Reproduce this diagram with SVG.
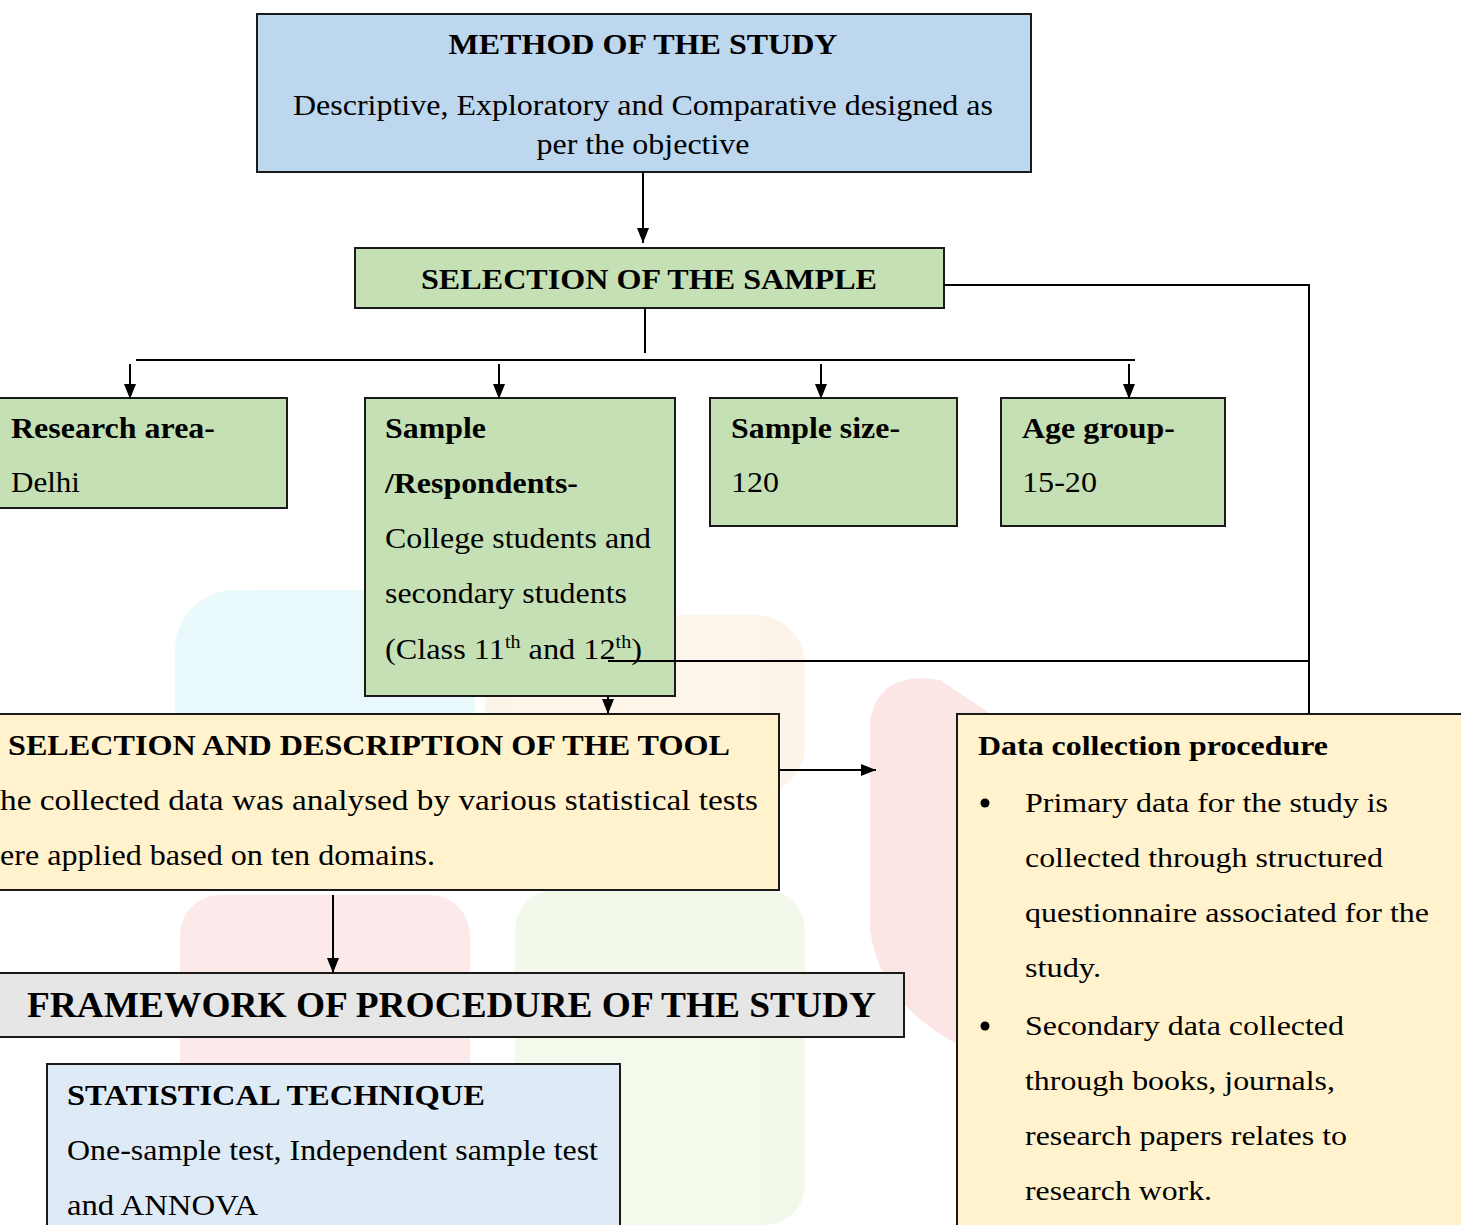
<svg xmlns="http://www.w3.org/2000/svg" width="1461" height="1225" viewBox="0 0 1461 1225" font-family="'Liberation Serif', 'Times New Roman', Tinos, 'Nimbus Roman', serif">
<defs>
<style>
.box{stroke:#1a1a1a;stroke-width:2}
.t{font-family:'Liberation Serif','Times New Roman',Tinos,'Nimbus Roman',serif;fill:#000}
.b{font-weight:bold}
.c{stroke:#000;stroke-width:2;fill:none}
.a{stroke:#000;stroke-width:2;fill:none;marker-end:url(#ah)}
.wm{opacity:0.11}
</style>
<marker id="ah" viewBox="0 0 15 12" refX="15" refY="6" markerWidth="15" markerHeight="12" orient="auto" markerUnits="userSpaceOnUse">
<path d="M0,0 L15,6 L0,12 z" fill="#000"/>
</marker>
</defs>
<rect width="1461" height="1225" fill="#fff"/>
<g id="watermark" class="wm">
<rect x="175" y="590" width="300" height="200" rx="60" fill="#39c6e0"/>
<rect x="485" y="615" width="320" height="180" rx="50" fill="#f5a040"/>
<rect x="180" y="895" width="290" height="280" rx="40" fill="#e84040"/>
<rect x="515" y="890" width="290" height="335" rx="40" fill="#8fd050"/>
<path d="M870,720 Q880,670 940,680 L1060,760 L1060,1050 Q1000,1070 950,1040 Q880,1000 870,930 Z" fill="#e02020"/>
</g>
<g id="method">
<rect class="box" x="257" y="14" width="774" height="158" fill="#BDD7EE"/>
<text class="t b" x="643" y="54" font-size="30" text-anchor="middle" textLength="389" lengthAdjust="spacingAndGlyphs">METHOD OF THE STUDY</text>
<text class="t" x="643" y="115" font-size="29" text-anchor="middle" textLength="700" lengthAdjust="spacingAndGlyphs">Descriptive, Exploratory and Comparative designed as</text>
<text class="t" x="643" y="154" font-size="29" text-anchor="middle" textLength="213" lengthAdjust="spacingAndGlyphs">per the objective</text>
</g>
<g id="selection-sample">
<rect class="box" x="355" y="248" width="589" height="60" fill="#C5E0B4"/>
<text class="t b" x="649" y="289" font-size="30" text-anchor="middle" textLength="456" lengthAdjust="spacingAndGlyphs">SELECTION OF THE SAMPLE</text>
</g>
<g id="research-area">
<rect class="box" x="-5" y="398" width="292" height="110" fill="#C5E0B4"/>
<text class="t b" x="11" y="438" font-size="29" textLength="204" lengthAdjust="spacingAndGlyphs">Research area-</text>
<text class="t" x="11" y="492" font-size="29" textLength="69" lengthAdjust="spacingAndGlyphs">Delhi</text>
</g>
<g id="sample-respondents">
<rect class="box" x="365" y="398" width="310" height="298" fill="#C5E0B4"/>
<text class="t b" x="385" y="438" font-size="29" textLength="101" lengthAdjust="spacingAndGlyphs">Sample</text>
<text class="t b" x="385" y="493" font-size="29" textLength="193" lengthAdjust="spacingAndGlyphs">/Respondents-</text>
<text class="t" x="385" y="548" font-size="29" textLength="266" lengthAdjust="spacingAndGlyphs">College students and</text>
<text class="t" x="385" y="603" font-size="29" textLength="242" lengthAdjust="spacingAndGlyphs">secondary students</text>
<text class="t" x="385" y="659" font-size="29" textLength="257" lengthAdjust="spacingAndGlyphs">(Class 11<tspan font-size="18" dy="-11">th</tspan><tspan dy="11"> and 12</tspan><tspan font-size="18" dy="-11">th</tspan><tspan dy="11">)</tspan></text>
</g>
<g id="sample-size">
<rect class="box" x="710" y="398" width="247" height="128" fill="#C5E0B4"/>
<text class="t b" x="731" y="438" font-size="29" textLength="169" lengthAdjust="spacingAndGlyphs">Sample size-</text>
<text class="t" x="731" y="492" font-size="29" textLength="48" lengthAdjust="spacingAndGlyphs">120</text>
</g>
<g id="age-group">
<rect class="box" x="1001" y="398" width="224" height="128" fill="#C5E0B4"/>
<text class="t b" x="1022" y="438" font-size="29" textLength="153" lengthAdjust="spacingAndGlyphs">Age group-</text>
<text class="t" x="1022" y="492" font-size="29" textLength="75" lengthAdjust="spacingAndGlyphs">15-20</text>
</g>
<g id="selection-tool">
<rect class="box" x="-5" y="714" width="784" height="176" fill="#FFF2CC"/>
<text class="t b" x="8" y="755" font-size="30" textLength="722" lengthAdjust="spacingAndGlyphs">SELECTION AND DESCRIPTION OF THE TOOL</text>
<text class="t" x="0" y="810" font-size="29" textLength="758" lengthAdjust="spacingAndGlyphs">he collected data was analysed by various statistical tests</text>
<text class="t" x="0" y="865" font-size="29" textLength="435" lengthAdjust="spacingAndGlyphs">ere applied based on ten domains.</text>
</g>
<g id="framework">
<rect class="box" x="-5" y="973" width="909" height="64" fill="#E7E6E6"/>
<text class="t b" x="27" y="1017" font-size="36" textLength="849" lengthAdjust="spacingAndGlyphs">FRAMEWORK OF PROCEDURE OF THE STUDY</text>
</g>
<g id="statistical-technique">
<rect class="box" x="47" y="1064" width="573" height="170" fill="#DEEBF7"/>
<text class="t b" x="67" y="1105" font-size="30" textLength="418" lengthAdjust="spacingAndGlyphs">STATISTICAL TECHNIQUE</text>
<text class="t" x="67" y="1160" font-size="29" textLength="531" lengthAdjust="spacingAndGlyphs">One-sample test, Independent sample test</text>
<text class="t" x="67" y="1215" font-size="29" textLength="191" lengthAdjust="spacingAndGlyphs">and ANNOVA</text>
</g>
<g id="data-collection">
<rect class="box" x="957" y="714" width="510" height="520" fill="#FFF2CC"/>
<text class="t b" x="978" y="755" font-size="28" textLength="350" lengthAdjust="spacingAndGlyphs">Data collection procedure</text>
<circle cx="985" cy="803" r="4.5" fill="#000"/>
<text class="t" x="1025" y="812" font-size="28" textLength="363" lengthAdjust="spacingAndGlyphs">Primary data for the study is</text>
<text class="t" x="1025" y="867" font-size="28" textLength="358" lengthAdjust="spacingAndGlyphs">collected through structured</text>
<text class="t" x="1025" y="922" font-size="28" textLength="404" lengthAdjust="spacingAndGlyphs">questionnaire associated for the</text>
<text class="t" x="1025" y="977" font-size="28" textLength="76" lengthAdjust="spacingAndGlyphs">study.</text>
<circle cx="985" cy="1026" r="4.5" fill="#000"/>
<text class="t" x="1025" y="1035" font-size="28" textLength="319" lengthAdjust="spacingAndGlyphs">Secondary data collected</text>
<text class="t" x="1025" y="1090" font-size="28" textLength="310" lengthAdjust="spacingAndGlyphs">through books, journals,</text>
<text class="t" x="1025" y="1145" font-size="28" textLength="322" lengthAdjust="spacingAndGlyphs">research papers relates to</text>
<text class="t" x="1025" y="1200" font-size="28" textLength="187" lengthAdjust="spacingAndGlyphs">research work.</text>
</g>
<g id="connectors">
<path class="a" d="M643,172 L643,243"/>
<path class="c" d="M944,285 L1309,285 L1309,714"/>
<path class="c" d="M645,308 L645,353"/>
<path class="c" d="M136,360 L1135,360"/>
<path class="a" d="M130,364 L130,399"/>
<path class="a" d="M499,364 L499,399"/>
<path class="a" d="M821,364 L821,399"/>
<path class="a" d="M1129,364 L1129,399"/>
<path class="c" d="M608,661 L1309,661"/>
<path class="a" d="M608,697 L608,714"/>
<path class="a" d="M779,770 L876,770"/>
<path class="a" d="M333,895 L333,973"/>
</g>
</svg>
